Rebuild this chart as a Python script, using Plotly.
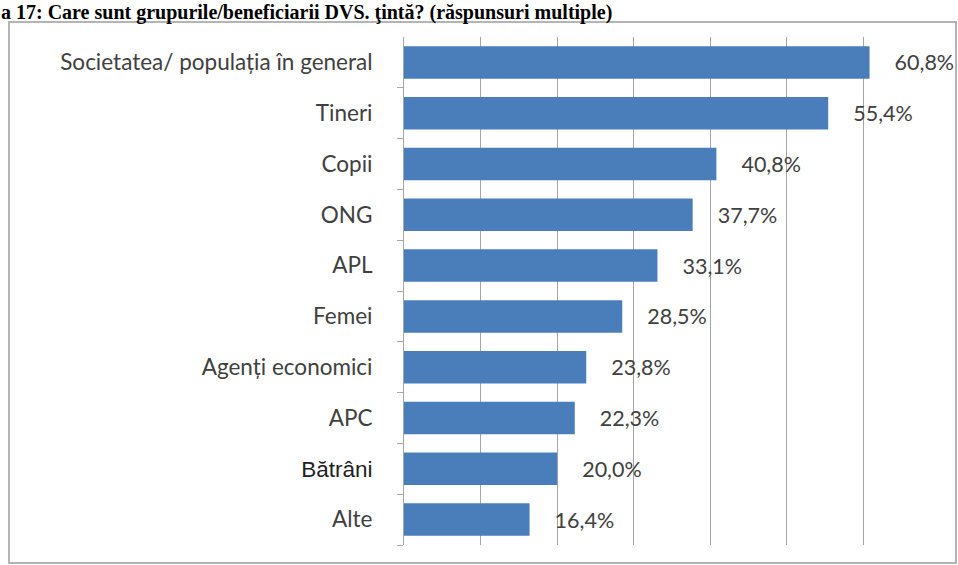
import plotly.graph_objects as go

# Survey answers: target groups / beneficiaries (multiple answers allowed)
categories = [
    "Societatea/ populația în general",
    "Tineri",
    "Copii",
    "ONG",
    "APL",
    "Femei",
    "Agenți economici",
    "APC",
    "Bătrâni",
    "Alte",
]
shares = [60.8, 55.4, 40.8, 37.7, 33.1, 28.5, 23.8, 22.3, 20.0, 16.4]

title_text = "a 17: Care sunt grupurile/beneficiarii DVS. ţintă? (răspunsuri multiple)"

# Tick labels; "Bătrâni" is set in a different face
tick_text = [
    "<span style='font-family:Liberation Sans;color:#1e1e1e'>%s</span>" % c if c == "Bătrâni" else c
    for c in categories
]

W, H = 958, 565
ML, MR, MT, MB = 404, 18, 37, 20
PW, PH = W - ML - MR, H - MT - MB


def px_x(x):
    return (x - ML) / PW


def px_y(y):
    return 1 - (y - MT) / PH


fig = go.Figure(
    go.Bar(
        x=shares,
        y=categories,
        orientation="h",
        marker=dict(color="#4a7ebb", line=dict(width=0)),
        width=0.64,
        text=shares,
        texttemplate="    %{x:.1f}%",
        textposition="outside",
        textfont=dict(family="Lato", size=21.5, color="#404040"),
        cliponaxis=False,
    )
)

fig.update_layout(
    width=W,
    height=H,
    margin=dict(l=ML, r=MR, t=MT, b=MB),
    paper_bgcolor="white",
    plot_bgcolor="white",
    separators=",.",
    showlegend=False,
    xaxis=dict(
        range=[0, 70],
        dtick=10,
        showgrid=True,
        gridcolor="#a6a6a6",
        gridwidth=1,
        showticklabels=False,
        zeroline=False,
        showline=False,
        fixedrange=True,
    ),
    yaxis=dict(
        categoryorder="array",
        categoryarray=categories[::-1],
        tickvals=categories,
        ticktext=tick_text,
        tickson="boundaries",
        ticks="outside",
        ticklen=6,
        tickcolor="#a6a6a6",
        showline=True,
        linecolor="#a6a6a6",
        linewidth=1,
        ticklabelstandoff=26,
        tickfont=dict(family="Lato", size=22.5, color="#404040"),
        showgrid=False,
        fixedrange=True,
    ),
    shapes=[
        dict(
            type="rect",
            xref="paper",
            yref="paper",
            x0=px_x(9),
            x1=px_x(956),
            y0=px_y(563),
            y1=px_y(22),
            line=dict(color="#b4b4b4", width=2),
            fillcolor="rgba(0,0,0,0)",
            layer="below",
        )
    ],
    annotations=[
        dict(
            text="<b>%s</b>" % title_text,
            xref="paper",
            yref="paper",
            x=px_x(0),
            y=px_y(0),
            xanchor="left",
            yanchor="top",
            borderpad=0,
            showarrow=False,
            font=dict(family="Liberation Serif", size=20, color="#000000"),
        )
    ],
)

fig.write_html("out.html")
